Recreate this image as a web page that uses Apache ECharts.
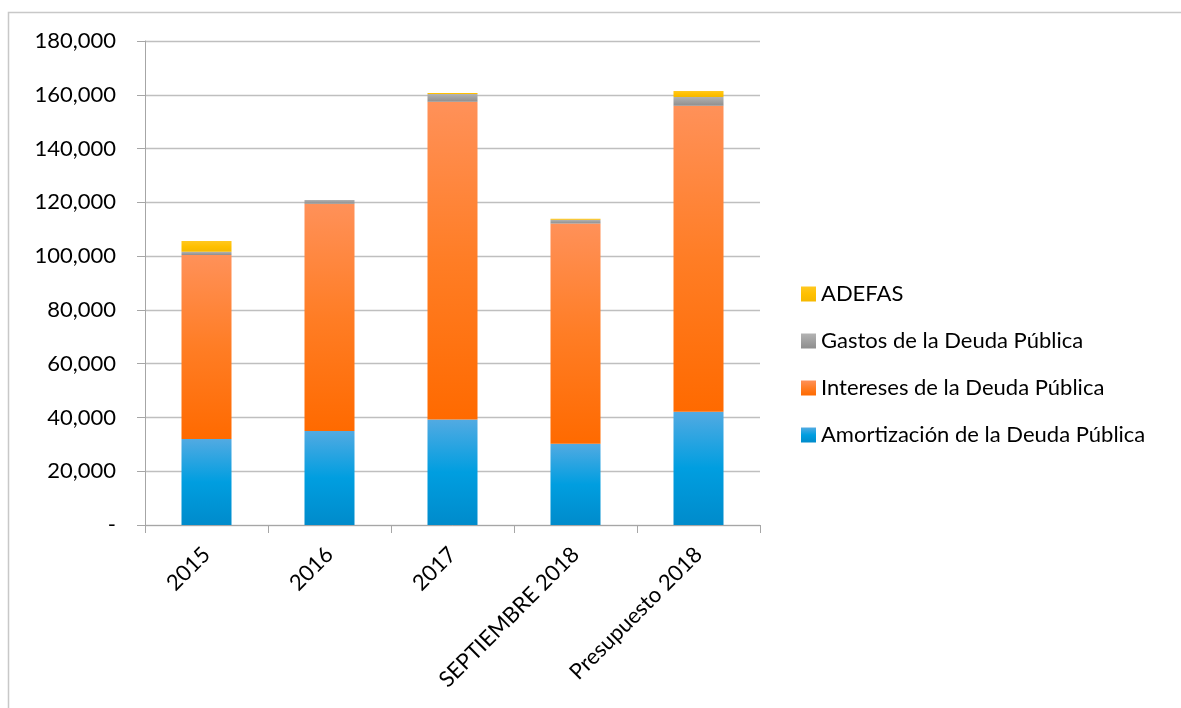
<!DOCTYPE html>
<html><head><meta charset="utf-8">
<script src="https://cdn.jsdelivr.net/npm/echarts@6/dist/echarts.min.js"></script>
<style>html,body{margin:0;padding:0;background:#fff}#c{width:1181px;height:708px}</style>
</head><body><div id="c"></div>
<script>
var categories = ['2015','2016','2017','SEPTIEMBRE 2018','Presupuesto 2018'];
var amortizacion = [32000, 35000, 39200, 30200, 42100];
var intereses = [68400, 84500, 118200, 81900, 113800];
var gastos = [1200, 1400, 2900, 1400, 3300];
var adefas = [4000, 0, 400, 400, 2200];
var yTicks = {min: 0, max: 180000, interval: 20000};

function grad(top, mid, bot){
  return {type:'linear',x:0,y:0,x2:0,y2:1,colorStops:[{offset:0,color:top},{offset:0.5,color:mid},{offset:1,color:bot}]};
}
var F = 'Lato, "Open Sans", sans-serif';
var chart = echarts.init(document.getElementById('c'), null, {renderer:'canvas'});
function ser(name, data, color){
  return {name:name, type:'bar', stack:'t', data:data, barWidth:50, itemStyle:{color:color}, emphasis:{disabled:true}};
}
chart.setOption({
  animation:false,
  graphic:[{type:'rect', shape:{x:8.5,y:12.5,width:1300,height:800}, style:{fill:'none', stroke:'#C8C8C8', lineWidth:1.5}, z:-1}],
  grid:{left:145, right:421, top:41, bottom:183},
  legend:{
    orient:'vertical', left:796, top:278, itemGap:25, itemWidth:15, itemHeight:15,
    textStyle:{fontFamily:F, fontSize:22, color:'#000', padding:[0,0,0,0]},
    data:['ADEFAS','Gastos de la Deuda Pública','Intereses de la Deuda Pública','Amortización de la Deuda Pública'],
    icon:'rect', selectedMode:false
  },
  xAxis:{
    type:'category', data:categories,
    axisLine:{lineStyle:{color:'#A6A6A6', width:1}},
    axisTick:{show:true, length:8, lineStyle:{color:'#A6A6A6'}},
    axisLabel:{rotate:45, interval:0, fontFamily:F, fontSize:22, color:'#000', margin:26}
  },
  yAxis:{
    type:'value', min:yTicks.min, max:yTicks.max, interval:yTicks.interval,
    axisLine:{show:true, lineStyle:{color:'#A6A6A6'}},
    axisTick:{show:true, length:8, lineStyle:{color:'#A6A6A6'}},
    splitLine:{lineStyle:{color:'#BFBFBF', width:1.3}},
    axisLabel:{fontFamily:F, fontSize:22, color:'#000', margin:29,
      formatter:function(v){ return v===0 ? '-' : v.toLocaleString('en-US'); }}
  },
  series:[
    ser('Amortización de la Deuda Pública', amortizacion, grad('#52AAE2','#009EE0','#008BCB')),
    ser('Intereses de la Deuda Pública', intereses, grad('#FF9159','#FF7D25','#FF6A00')),
    ser('Gastos de la Deuda Pública', gastos, grad('#B3B3B3','#A0A0A0','#8E8E8E')),
    ser('ADEFAS', adefas, grad('#FFC820','#FFC000','#F5B800'))
  ]
});
</script></body></html>
